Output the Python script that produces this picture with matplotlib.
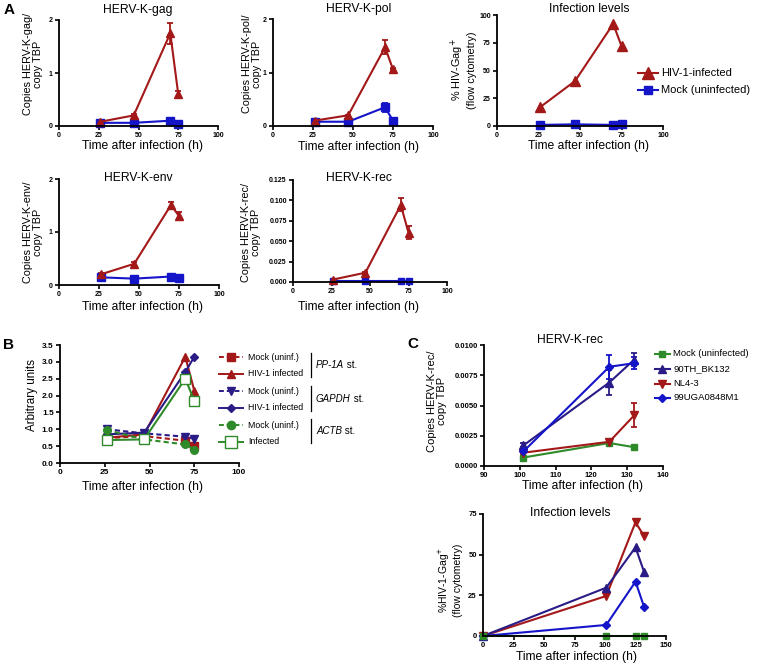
import matplotlib
matplotlib.use('Agg')
import matplotlib.pyplot as plt
from matplotlib.lines import Line2D
from matplotlib.ticker import FormatStrFormatter

plt.rcParams['font.family'] = ['Liberation Sans', 'DejaVu Sans']

W, H = 757, 665
RED = '#A31818'
BLUE = '#1414C8'
NAVY = '#2A1C86'
GREEN = '#2F8A2A'

# ---- panel A: HERV-K transcripts over time ----
a_time = [26, 47, 70, 75]
gag_hiv = [0.08, 0.2, 1.75, 0.6]
gag_hiv_err = [0.02, 0.02, 0.2, 0.06]
gag_mock = [0.06, 0.06, 0.1, 0.03]
pol_hiv = [0.1, 0.2, 1.47, 1.06]
pol_hiv_err = [0.01, 0.01, 0.13, 0.02]
pol_mock = [0.08, 0.08, 0.35, 0.1]
pol_mock_err = [0.0, 0.0, 0.08, 0.0]
env_hiv = [0.2, 0.4, 1.51, 1.3]
env_hiv_err = [0.02, 0.03, 0.06, 0.08]
env_mock = [0.145, 0.12, 0.16, 0.13]
rec_hiv = [0.003, 0.0114, 0.0944, 0.0604]
rec_hiv_err = [0.0005, 0.001, 0.008, 0.008]
rec_mock = [0.001, 0.001, 0.001, 0.001]
inf_hiv = [17, 40.5, 92, 72]
inf_mock = [1, 1.5, 1, 2]
a_legend = ['HIV-1-infected', 'Mock (uninfected)']

# ---- panel B: normalisation to housekeeping genes ----
b_time = [26, 47, 70, 75]
pp1a_mock = [0.74, 0.8, 0.66, 0.5]
pp1a_hiv = [0.75, 0.85, 3.15, 2.15]
gapdh_mock = [1.0, 0.88, 0.78, 0.72]
gapdh_hiv = [0.85, 0.9, 2.7, 3.15]
actb_mock = [0.98, 0.7, 0.55, 0.4]
actb_hiv = [0.68, 0.7, 2.5, 1.85]
b_labels = ['Mock (uninf.)', 'HIV-1 infected', 'Mock (uninf.)',
            'HIV-1 infected', 'Mock (uninf.)', 'Infected']
b_genes = ['PP-1A', 'GAPDH', 'ACTB']

# ---- panel C: different HIV-1 strains ----
c_time = [101, 125, 132]
c_mock = [0.0007, 0.0019, 0.00155]
c_mock_err = [0.0001, 0.0001, 0.0001]
c_bk132 = [0.0017, 0.0069, 0.0088]
c_bk132_err = [0.0002, 0.001, 0.0005]
c_nl43 = [0.0011, 0.002, 0.0042]
c_nl43_err = [0.0001, 0.0001, 0.001]
c_uga = [0.0012, 0.0082, 0.0085]
c_uga_err = [0.0004, 0.001, 0.0005]
c_inf_time = [0, 101, 125, 132]
c_inf_mock = [0, 0, 0, 0]
c_inf_bk132 = [0, 29.7, 54.5, 39.5]
c_inf_nl43 = [0, 24.6, 69.9, 61.5]
c_inf_uga = [0, 6.8, 33.4, 18]
c_legend = ['Mock (uninfected)', '90TH_BK132', 'NL4-3', '99UGA0848M1']

fig = plt.figure(figsize=(W / 100, H / 100), dpi=100)


def px_axes(l, t, r, b):
    return fig.add_axes([l / W, 1 - b / H, (r - l) / W, (b - t) / H])


def style(ax, xlim, xticks, ylim, yticks, fmt, fs):
    for s in ['top', 'right']:
        ax.spines[s].set_visible(False)
    for s in ['left', 'bottom']:
        ax.spines[s].set_linewidth(1.3)
    ax.set_xlim(*xlim)
    ax.set_ylim(*ylim)
    ax.set_xticks(xticks)
    ax.set_yticks(yticks)
    ax.yaxis.set_major_formatter(FormatStrFormatter(fmt))
    ax.tick_params(direction='out', length=3, width=1.2, labelsize=fs, pad=1.5)
    for lab in ax.get_xticklabels() + ax.get_yticklabels():
        lab.set_fontweight('bold')
    ax.patch.set_alpha(0)


def series(ax, x, y, color, marker, err=None, ms=5.5, ls='-', mfc=None):
    ax.errorbar(x, y, yerr=err, color=color, marker=marker, ms=ms, lw=1.5,
                ls=ls, capsize=2.5, elinewidth=1.3, capthick=1.3,
                mfc=mfc if mfc else color, mec=color, clip_on=False,
                dashes=(2.5, 1.5) if ls == '--' else (None, None))


# panel A axes
ax1 = px_axes(59, 20, 218, 126)
series(ax1, a_time, gag_mock, BLUE, 's')
series(ax1, a_time, gag_hiv, RED, '^', gag_hiv_err)
style(ax1, (0, 100), range(0, 101, 25), (0, 2), [0, 1, 2], '%d', 5)

ax2 = px_axes(273, 19, 433, 126)
series(ax2, a_time, pol_mock, BLUE, 's', pol_mock_err)
series(ax2, a_time, pol_hiv, RED, '^', pol_hiv_err)
style(ax2, (0, 100), range(0, 101, 25), (0, 2), [0, 1, 2], '%d', 5)

ax3 = px_axes(497, 15, 663, 126)
series(ax3, a_time, inf_mock, BLUE, 's')
series(ax3, a_time, inf_hiv, RED, '^', ms=7)
style(ax3, (0, 100), range(0, 101, 25), (0, 100), range(0, 101, 25), '%d', 5)

ax4 = px_axes(59, 179, 219, 285)
series(ax4, a_time, env_mock, BLUE, 's')
series(ax4, a_time, env_hiv, RED, '^', env_hiv_err)
style(ax4, (0, 100), range(0, 101, 25), (0, 2), [0, 1, 2], '%d', 5)

ax5 = px_axes(293, 180, 447, 282)
series(ax5, a_time, rec_mock, BLUE, 's', ms=4)
series(ax5, a_time, rec_hiv, RED, '^', rec_hiv_err)
style(ax5, (0, 100), range(0, 101, 25), (0, 0.125),
      [0, 0.025, 0.05, 0.075, 0.1, 0.125], '%.3f', 5)

# panel B
axb = px_axes(60, 345, 239, 463)
b_series = [(pp1a_mock, RED, 's', '--', None), (pp1a_hiv, RED, '^', '-', None),
            (gapdh_mock, NAVY, 'v', '--', None), (gapdh_hiv, NAVY, 'D', '-', None),
            (actb_mock, GREEN, 'o', '--', None), (actb_hiv, GREEN, 's', '-', 'white')]
for y, c, m, ls, mfc in b_series:
    series(axb, b_time, y, c, m, ms=7 if mfc else (4 if m == 'D' else 5.5), ls=ls, mfc=mfc)
style(axb, (0, 100), range(0, 101, 25), (0, 3.5),
      [0, 0.5, 1, 1.5, 2, 2.5, 3, 3.5], '%.1f', 6)

# panel C
axc = px_axes(484, 345, 663, 466)
series(axc, c_time, c_mock, GREEN, 's', c_mock_err, ms=5)
series(axc, c_time, c_nl43, RED, 'v', c_nl43_err, ms=6)
series(axc, c_time, c_bk132, NAVY, '^', c_bk132_err, ms=6)
series(axc, c_time, c_uga, BLUE, 'D', c_uga_err, ms=4.5)
style(axc, (90, 140), range(90, 141, 10), (0, 0.01),
      [0, 0.0025, 0.005, 0.0075, 0.01], '%.4f', 5.5)

axd = px_axes(483, 514, 666, 636)
series(axd, c_inf_time, c_inf_nl43, RED, 'v', ms=6)
series(axd, c_inf_time, c_inf_bk132, NAVY, '^', ms=6)
series(axd, c_inf_time, c_inf_uga, BLUE, 'D', ms=4.5)
series(axd, c_inf_time, c_inf_mock, GREEN, 's', ms=5)
style(axd, (0, 150), range(0, 151, 25), (0, 75), [0, 25, 50, 75], '%d', 5.5)

# overlay in pixel coordinates for labels and legends
ov = fig.add_axes([0, 0, 1, 1])
ov.set_xlim(0, W)
ov.set_ylim(H, 0)
ov.axis('off')
ov.patch.set_alpha(0)

def txt(x, y, s, fs=8.7, rot=0, **kw):
    return ov.text(x, y, s, fontsize=fs, rotation=rot, ha=kw.pop('ha', 'center'),
                   va=kw.pop('va', 'center'), **kw)

for s, x, y in [('A', 9, 10), ('B', 9, 345), ('C', 413, 344)]:
    txt(x, y, s, fs=11, fontweight='bold')

for s, x, y in [('HERV-K-gag', 138, 10), ('HERV-K-pol', 359, 9),
                ('Infection levels', 589, 9), ('HERV-K-env', 138, 178),
                ('HERV-K-rec', 359, 178), ('HERV-K-rec', 570, 340),
                ('Infection levels', 570, 513)]:
    txt(x, y, s)

for x, y in [(143, 146), (358, 147), (589, 146), (143, 307), (358, 307),
             (143, 487), (583, 486), (577, 657)]:
    txt(x, y, 'Time after infection (h)')

for s, x, y, fs in [('Copies HERV-K-gag/\ncopy TBP', 33, 64, 7.8),
                    ('Copies HERV-K-pol/\ncopy TBP', 252, 64, 7.8),
                    ('% HIV-Gag$^{+}$\n(flow cytometry)', 463, 70, 7.8),
                    ('Copies HERV-K-env/\ncopy TBP', 33, 232, 7.8),
                    ('Copies HERV-K-rec/\ncopy TBP', 251, 232, 7.8),
                    ('Arbitrary units', 32, 395, 8.4),
                    ('Copies HERV-K-rec/\ncopy TBP', 437, 401, 8),
                    ('%HIV-1-Gag$^{+}$\n(flow cytometry)', 450, 580, 7.5)]:
    txt(x, y, s, fs=fs, rot=90, linespacing=1.1)

# legend A
for (lab, c, m, ms), y in zip([(a_legend[0], RED, '^', 8), (a_legend[1], BLUE, 's', 6)], [73, 90]):
    ov.add_line(Line2D([638, 658], [y, y], color=c, lw=1.5, marker=None))
    ov.plot([648], [y], marker=m, color=c, ms=ms)
    txt(661, y, lab, fs=8, ha='left')

# legend B
b_rows = [357, 374, 391, 408, 425, 442]
for (yv, c, m, ls, mfc), lab, y in zip(b_series, b_labels, b_rows):
    ov.add_line(Line2D([219, 243], [y, y], color=c, lw=1.4, ls=ls,
                       dashes=(2.5, 1.5) if ls == '--' else (None, None)))
    ov.plot([231], [y], marker=m, color=c, mec=c, mfc=mfc if mfc else c,
            ms=8 if mfc else (4.5 if m == 'D' else 6))
    txt(248, y, lab, fs=6.3, ha='left')
for gene, (y0, y1) in zip(b_genes, [(353, 377), (386, 411), (419, 443)]):
    ov.plot([311, 311], [y0, y1], color='black', lw=0.9)
    t = txt(316, (y0 + y1) / 2, gene, fs=7, ha='left', style='italic')
    ov.annotate(' st.', xy=(1, 0.5), xycoords=t, ha='left', va='center', fontsize=7)

# legend C
c_styles = [(GREEN, 's', 5), (NAVY, '^', 6), (RED, 'v', 6), (BLUE, 'D', 4.5)]
for (c, m, ms), lab, y in zip(c_styles, c_legend, [354, 369, 384, 398]):
    ov.add_line(Line2D([655, 670], [y, y], color=c, lw=1.5))
    ov.plot([662], [y], marker=m, color=c, ms=ms)
    txt(673, y, lab, fs=6.8, ha='left')

fig.savefig('out.png', dpi=100)
